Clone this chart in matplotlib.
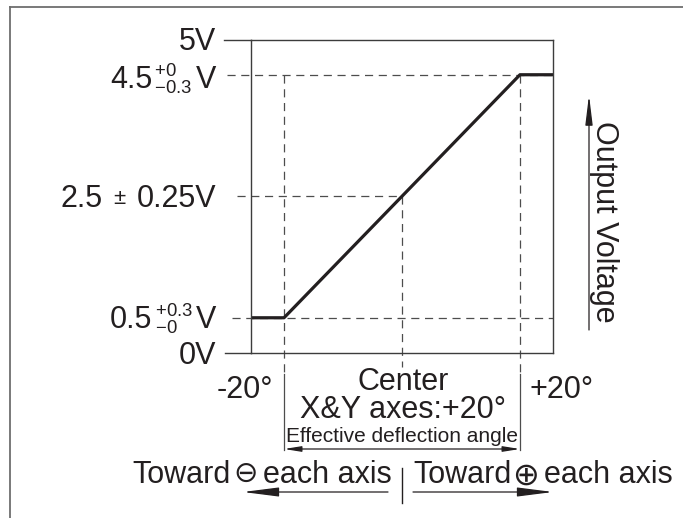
import matplotlib.pyplot as plt
from matplotlib.lines import Line2D

plt.rcParams['font.family'] = ['Liberation Sans', 'DejaVu Sans']
plt.rcParams['mathtext.fontset'] = 'custom'
plt.rcParams['mathtext.rm'] = 'Liberation Sans'

W, H = 683, 518
INK = '#231f20'
GREY = '#4d4d4d'
BIG = 22

# sensor output: deflection angle (deg) vs output voltage (V)
angle = [-20, 0, 20]
volts = [0.5, 2.5, 4.5]
x_span = 25.6
v_range = (-0.08, 5.08)

# reference levels drawn as dashed guides, and where they start on the left (px)
level_v = [4.5, 2.5, 0.5]
level_start = [227, 237, 232]


fig = plt.figure(figsize=(W / 100, H / 100), dpi=100)
ax = fig.add_axes([251 / W, 1 - 353 / H, 302 / W, 313.5 / H])
ax.set_xlim(-x_span, x_span)
ax.set_ylim(*v_range)
ax.set_xticks([])
ax.set_yticks([])
for s in ax.spines.values():
    s.set_linewidth(1.0)
    s.set_color('#3c3c3c')


def to_px(x, y):
    # data -> figure pixels with top-left origin
    px, py = ax.transData.transform((x, y))
    return px, H - py


def from_px_x(xp):
    return ax.transData.inverted().transform((xp, 0))[0]


def from_px_y(yp):
    return ax.transData.inverted().transform((0, H - yp))[1]


def fline(x0, y0, x1, y1, **kw):
    fig.add_artist(Line2D([x0 / W, x1 / W], [1 - y0 / H, 1 - y1 / H], **kw))


def ftext(x, y, s, size, ha='left', va='baseline', **kw):
    fig.text(x / W, 1 - y / H, s, fontsize=size, ha=ha, va=va, color=INK, **kw)


def farrow(x0, y0, x1, y1, style):
    ax.annotate('', xy=(x1, H - y1), xytext=(x0, H - y0),
                xycoords='figure pixels', textcoords='figure pixels',
                arrowprops=dict(arrowstyle=style, color=INK, lw=0.9,
                                shrinkA=0, shrinkB=0))


dash = dict(color=GREY, lw=0.9, dashes=(6.5, 4.5), clip_on=False)

# horizontal dashed guides
for v, start in zip(level_v, level_start):
    x_end = 0 if v == 2.5 else x_span
    ax.plot([from_px_x(start), x_end], [v, v], **dash)

# vertical dashed guides from the curve down below the frame
tops = [volts[-1], volts[1], volts[-1]]
bottoms = [372, 367, 372]
for a, top, bot in zip(angle, tops, bottoms):
    ax.plot([a, a], [top, from_px_y(bot)], **dash)

# 0V / 5V ticks on the left
fline(224, 39.5, 251, 39.5, color='#3c3c3c', lw=1.0)
fline(225, 353, 251, 353, color='#3c3c3c', lw=1.0)

# output curve
ax.plot([-x_span] + angle + [x_span], [volts[0]] + volts + [volts[-1]],
        color=INK, lw=2.3, solid_capstyle='butt', clip_on=False)

# effective deflection bracket
lx, _ = to_px(angle[0], 0)
rx, _ = to_px(angle[-1], 0)
for xb in (lx, rx):
    fline(xb, 374, xb, 450, color=GREY, lw=0.9)
farrow(lx, 449, rx, 449, '<|-|>,head_length=1.0,head_width=0.16')

# left voltage labels
ftext(216, 50, '5V', BIG, ha='right')
ftext(110, 88, '4.5', BIG)
ftext(154, 88, r'$\mathregular{^{+0}_{-0.3}}$', 19)
ftext(216, 88, 'V', BIG, ha='right')
ftext(61, 207, '2.5', BIG)
ftext(119, 204, '±', 16, ha='center')
ftext(216, 207, '0.25V', BIG, ha='right')
ftext(152, 328, '0.5', BIG, ha='right')
ftext(155, 328, r'$\mathregular{^{+0.3}_{-0}}$', 19)
ftext(216, 328, 'V', BIG, ha='right')
ftext(216, 364, '0V', BIG, ha='right')

# angle labels
ftext(244.5, 398, '-20°', BIG, ha='center')
ftext(562, 398, '+20°', BIG, ha='center')
ftext(403, 418, 'Center\nX&Y axes:+20°', BIG, ha='center',
      multialignment='center', linespacing=0.92)
ftext(402, 442, 'Effective deflection angle', 15, ha='center')

# output voltage axis arrow
farrow(589, 330, 589, 95, '-|>,head_length=1.8,head_width=0.22')
ftext(604, 221.5, 'Output Voltage', BIG, ha='center', va='center', rotation=-90)

# direction captions
ftext(132, 483, 'Toward', BIG)
ftext(246, 474, '⊖', 21, ha='center', va='center', family='DejaVu Sans')
ftext(392, 483, 'each axis', BIG, ha='right')
ftext(413, 483, 'Toward', BIG)
ftext(526, 476, '⊕', 23, ha='center', va='center', family='DejaVu Sans')
ftext(673, 483, 'each axis', BIG, ha='right')
fline(402, 468, 402, 503, color=INK, lw=1.0)
farrow(388, 492, 243, 492, '-|>,head_length=2.2,head_width=0.28')
farrow(413, 492, 553, 492, '-|>,head_length=2.2,head_width=0.28')

# page border (top and left only)
fline(10, 6.5, W, 6.5, color='#6e6e6e', lw=1.3)
fline(10, 6.5, 10, H, color='#6e6e6e', lw=1.3)

fig.savefig('out.png', dpi=100)
